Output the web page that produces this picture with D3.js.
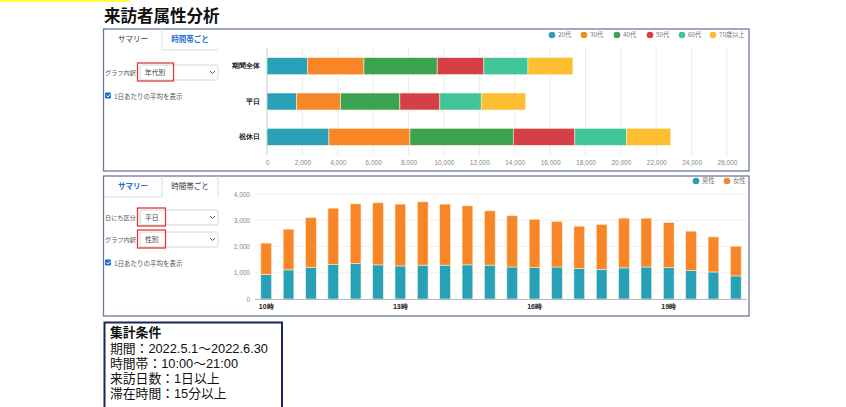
<!DOCTYPE html>
<html>
<head>
<meta charset="utf-8">
<script src="https://cdn.jsdelivr.net/npm/d3@7"></script>
<style>
  html, body { margin: 0; padding: 0; background: #fff; }
  svg { display: block; font-family: "Noto Sans CJK JP", "Noto Sans", sans-serif; }
</style>
</head>
<body>
<svg id="chart" width="846" height="407"></svg>
<script>
// 上段: 年代別（1日あたり平均）
const dayTypes = ['期間全体', '平日', '祝休日'];
const ageGroups = ['20代', '30代', '40代', '50代', '60代', '70歳以上'];
const ageColors = ['#2aa1b8', '#f88626', '#3ba24f', '#d63f46', '#3fc598', '#fdbf30'];
const age20 = [2280, 1680, 3500];
const age30 = [3200, 2480, 4580];
const age40 = [4140, 3350, 5840];
const age50 = [2640, 2260, 3480];
const age60 = [2490, 2340, 2920];
const age70 = [2540, 2510, 2500];
const topTicks = d3.range(0, 26001, 2000);

// 下段: 時間帯別 性別（平日）
const slots = ['10:00', '10:30', '11:00', '11:30', '12:00', '12:30', '13:00', '13:30',
  '14:00', '14:30', '15:00', '15:30', '16:00', '16:30', '17:00', '17:30',
  '18:00', '18:30', '19:00', '19:30', '20:00', '20:30'];
const slotTicks = ['10:00', '13:00', '16:00', '19:00'];
const genders = ['男性', '女性'];
const genderColors = ['#27a1b8', '#f98626'];
const male = [940, 1110, 1210, 1310, 1350, 1300, 1260, 1290, 1290, 1300, 1290,
  1220, 1200, 1220, 1160, 1130, 1185, 1220, 1195, 1080, 1030, 880];
const female = [1190, 1550, 1890, 2150, 2275, 2365, 2355, 2410, 2325, 2250, 2070,
  1950, 1840, 1730, 1615, 1710, 1895, 1860, 1720, 1505, 1335, 1130];
const bottomTicks = d3.range(0, 4001, 1000);

const conditions = ['期間：2022.5.1～2022.6.30', '時間帯：10:00～21:00', '来訪日数：1日以上', '滞在時間：15分以上'];

const svg = d3.select('#chart');

// ヘッダー
svg.append('rect').attr('x', 0).attr('y', 0).attr('width', 130).attr('height', 2).attr('fill', '#ffff3c');
svg.append('text').attr('x', 104).attr('y', 22).attr('font-size', 16.5).attr('font-weight', 'bold')
  .attr('fill', '#111').text('来訪者属性分析');

// パネル共通パーツ
function panel(y0, h) {
  svg.append('rect').attr('x', 103.5).attr('y', y0).attr('width', 645.5).attr('height', h)
    .attr('fill', '#fff').attr('stroke', '#6d7a98').attr('stroke-width', 1.3);
}
function tabs(y0, active) {
  const g = svg.append('g').attr('font-size', 7.5);
  const line = '#dcdcdc';
  const bottom = y0 + 21;
  if (active === 0) {
    g.append('path').attr('d', `M162,${y0} V${bottom} H218`).attr('stroke', line).attr('fill', 'none');
  } else {
    g.append('path').attr('d', `M104,${bottom} H162 V${y0} M218,${y0} V${bottom}`).attr('stroke', line).attr('fill', 'none');
  }
  g.append('text').attr('x', 133).attr('y', y0 + 13).attr('text-anchor', 'middle')
    .attr('fill', active === 0 ? '#333' : '#1a6fd6').attr('font-weight', active === 0 ? 'normal' : 'bold').text('サマリー');
  g.append('text').attr('x', 190).attr('y', y0 + 13).attr('text-anchor', 'middle')
    .attr('fill', active === 1 ? '#333' : '#1a6fd6').attr('font-weight', active === 1 ? 'normal' : 'bold').text('時間帯ごと');
}
function select(label, value, y, boxW) {
  const g = svg.append('g').attr('font-size', 6.2);
  g.append('text').attr('x', 105).attr('y', y + 2.5).attr('fill', '#555').text(label);
  g.append('rect').attr('x', 140).attr('y', y - 7).attr('width', 78).attr('height', 15).attr('rx', 2)
    .attr('fill', '#fff').attr('stroke', '#d5d5d5');
  g.append('text').attr('x', 145).attr('y', y + 2.5).attr('font-size', 6.8).attr('fill', '#444').text(value);
  g.append('path').attr('d', `M210,${y - 1} l2.5,2.5 l2.5,-2.5`).attr('stroke', '#555').attr('fill', 'none');
  g.append('rect').attr('x', 137.5).attr('y', y - 9).attr('width', boxW).attr('height', 18)
    .attr('fill', 'none').attr('stroke', '#dd3c35').attr('stroke-width', 1.3);
}
function checkbox(y) {
  const g = svg.append('g');
  g.append('rect').attr('x', 105).attr('y', y - 3.5).attr('width', 6).attr('height', 6).attr('rx', 1).attr('fill', '#1a6fd6');
  g.append('path').attr('d', `M106.3,${y - 0.5} l1.5,1.6 l2.6,-3`).attr('stroke', '#fff').attr('stroke-width', 1).attr('fill', 'none');
  g.append('text').attr('x', 114).attr('y', y + 2.5).attr('font-size', 6.5).attr('fill', '#555').text('1日あたりの平均を表示');
}
function legend(names, colors, xs, y) {
  const g = svg.append('g').attr('font-size', 6.3).attr('fill', '#777');
  names.forEach((n, i) => {
    g.append('circle').attr('cx', xs[i]).attr('cy', y).attr('r', 3.3).attr('fill', colors[i]);
    g.append('text').attr('x', xs[i] + 6).attr('y', y + 2.3).text(n);
  });
}

// ===== 上段パネル =====
panel(29, 142);
tabs(29, 0);
select('グラフ内訳', '年代別', 72, 36);
checkbox(96);
legend(ageGroups, ageColors, [552, 584, 617, 650, 682, 713], 35);

const topRows = dayTypes.map((d, i) => ({
  day: d, '20代': age20[i], '30代': age30[i], '40代': age40[i], '50代': age50[i], '60代': age60[i], '70歳以上': age70[i]
}));
const topStack = d3.stack().keys(ageGroups)(topRows);

const x1 = d3.scaleLinear().domain([0, 26000]).range([267, 727]);
const y1 = d3.scaleBand().domain(dayTypes).range([48.5, 154.5]).paddingInner(0.52).paddingOuter(0.26);

svg.append('g').selectAll('line').data(topTicks.slice(1)).join('line')
  .attr('x1', d => x1(d)).attr('x2', d => x1(d)).attr('y1', 48).attr('y2', 155)
  .attr('stroke', '#ececec');
svg.append('line').attr('x1', x1(0)).attr('x2', x1(0)).attr('y1', 48).attr('y2', 155).attr('stroke', '#c8c8c8');

svg.append('g').selectAll('g').data(topStack).join('g')
  .attr('fill', (d, i) => ageColors[i])
  .selectAll('rect').data(d => d).join('rect')
  .attr('x', d => x1(d[0])).attr('width', d => x1(d[1]) - x1(d[0]))
  .attr('y', d => y1(d.data.day)).attr('height', y1.bandwidth())
  .attr('stroke', '#f3f0d8').attr('stroke-width', 0.6);

const xAxis1 = svg.append('g').attr('transform', 'translate(0,155)')
  .call(d3.axisBottom(x1).tickValues(topTicks).tickSize(0).tickPadding(5).tickFormat(d3.format(',')));
xAxis1.select('.domain').remove();
xAxis1.selectAll('text').attr('font-size', 6.5).attr('fill', '#888').attr('font-family', null);

const yAxis1 = svg.append('g').attr('transform', 'translate(263,0)')
  .call(d3.axisLeft(y1).tickSize(0).tickPadding(3));
yAxis1.select('.domain').remove();
yAxis1.selectAll('text').attr('font-size', 7).attr('font-weight', 'bold').attr('fill', '#222').attr('font-family', null);

// ===== 下段パネル =====
panel(176, 140);
tabs(176, 1);
select('日にち区分', '平日', 217, 28);
select('グラフ内訳', '性別', 239, 28);
checkbox(263);
legend(genders, genderColors, [696, 727], 181);

const bottomRows = slots.map((s, i) => ({ slot: s, '男性': male[i], '女性': female[i] }));
const bottomStack = d3.stack().keys(genders)(bottomRows);

const x2 = d3.scaleBand().domain(slots).range([255, 747]).paddingInner(0.52).paddingOuter(0.26);
const y2 = d3.scaleLinear().domain([0, 4000]).range([299, 194]);

svg.append('g').selectAll('line').data(bottomTicks.slice(1)).join('line')
  .attr('x1', 255).attr('x2', 747).attr('y1', d => y2(d)).attr('y2', d => y2(d))
  .attr('stroke', '#f0f0f0');

svg.append('g').selectAll('g').data(bottomStack).join('g')
  .attr('fill', (d, i) => genderColors[i])
  .selectAll('rect').data(d => d).join('rect')
  .attr('x', d => x2(d.data.slot)).attr('width', x2.bandwidth())
  .attr('y', d => y2(d[1])).attr('height', d => y2(d[0]) - y2(d[1]))
  .attr('stroke', '#f3f0d8').attr('stroke-width', 0.6);

svg.append('line').attr('x1', 255).attr('x2', 747).attr('y1', 299.5).attr('y2', 299.5).attr('stroke', '#b8b8b8');

const yAxis2 = svg.append('g').attr('transform', 'translate(250,0)')
  .call(d3.axisLeft(y2).tickValues(bottomTicks).tickSize(0).tickPadding(0).tickFormat(d3.format(',')));
yAxis2.select('.domain').remove();
yAxis2.selectAll('text').attr('font-size', 6.5).attr('fill', '#888').attr('font-family', null);

const xAxis2 = svg.append('g').attr('transform', 'translate(0,299)')
  .call(d3.axisBottom(x2).tickValues(slotTicks).tickSize(0).tickPadding(5).tickFormat(d => parseInt(d) + '時'));
xAxis2.select('.domain').remove();
xAxis2.selectAll('text').attr('font-size', 7).attr('font-weight', 'bold').attr('fill', '#222').attr('font-family', null);

// ===== 集計条件 =====
svg.append('rect').attr('x', 104.5).attr('y', 322.5).attr('width', 177.5).attr('height', 90)
  .attr('fill', '#fff').attr('stroke', '#1c2658').attr('stroke-width', 2);
const cond = svg.append('g').attr('font-size', 12.8).attr('fill', '#111')
  .attr('font-family', '"Liberation Sans", "Noto Sans CJK JP", sans-serif');
cond.append('text').attr('x', 110).attr('y', 337).attr('font-weight', 'bold').text('集計条件');
cond.selectAll('text.c').data(conditions).join('text').attr('class', 'c')
  .attr('x', 110).attr('y', (d, i) => 353 + i * 15).text(d => d);
</script>
</body>
</html>
